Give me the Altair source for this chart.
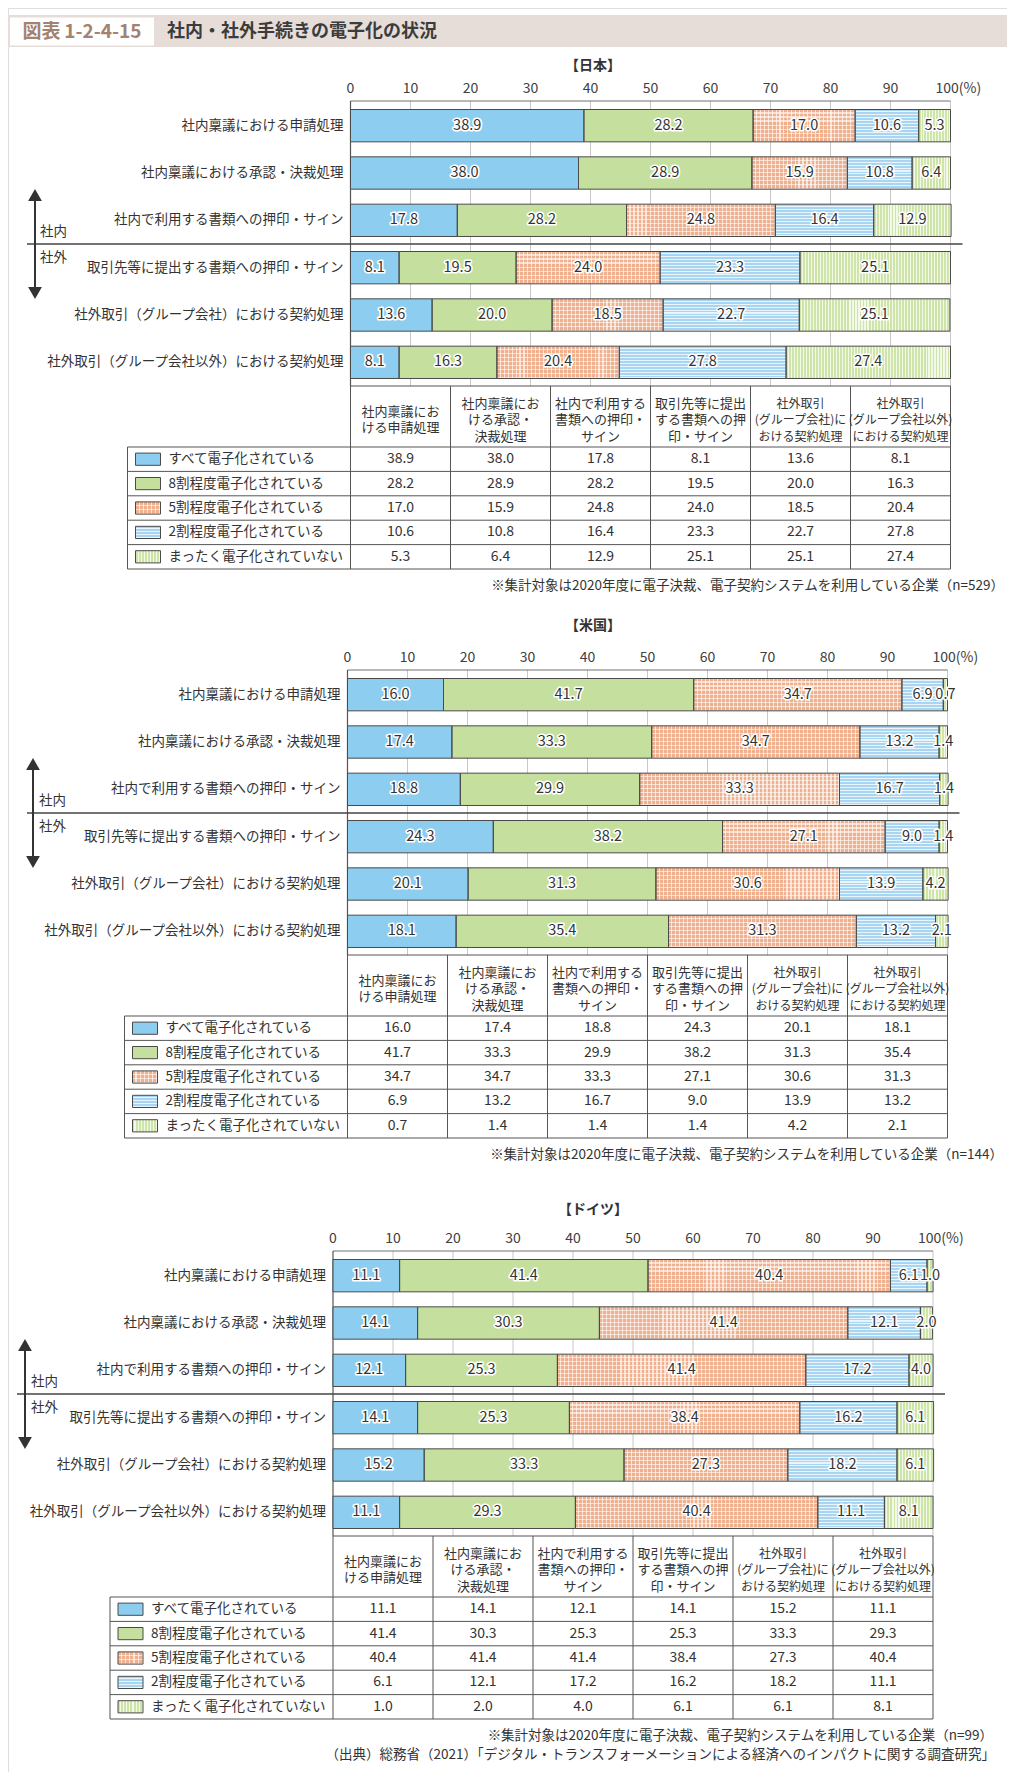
import altair as alt

# ------------------------------------------------------------------ data
CATS = [
    "社内稟議における申請処理",
    "社内稟議における承認・決裁処理",
    "社内で利用する書類への押印・サイン",
    "取引先等に提出する書類への押印・サイン",
    "社外取引（グループ会社）における契約処理",
    "社外取引（グループ会社以外）における契約処理",
]
LEVELS = [
    "すべて電子化されている",
    "8割程度電子化されている",
    "5割程度電子化されている",
    "2割程度電子化されている",
    "まったく電子化されていない",
]
HEADERS = [
    "社内稟議にお\nける申請処理",
    "社内稟議にお\nける承認・\n決裁処理",
    "社内で利用する\n書類への押印・\nサイン",
    "取引先等に提出\nする書類への押\n印・サイン",
    "社外取引\n(グループ会社)に\nおける契約処理",
    "社外取引\n(グループ会社以外)\nにおける契約処理",
]
COUNTRIES = ["【日本】", "【米国】", "【ドイツ】"]
SAMPLE_N = [529, 144, 99]
TICKS = [0, 10, 20, 30, 40, 50, 60, 70, 80, 90]
TICK_MAX_LABEL = "100(%)"
FIG_NO = "図表\u20091-2-4-15"
FIG_TITLE = "社内・社外手続きの電子化の状況"
NOTE = "※集計対象は2020年度に電子決裁、電子契約システムを利用している企業（n={}）"
SOURCE = "（出典）総務省（2021）「デジタル・トランスフォーメーションによる経済へのインパクトに関する調査研究」"
INSIDE, OUTSIDE = "社内", "社外"

jp_all = [38.9, 38.0, 17.8, 8.1, 13.6, 8.1]
jp_80 = [28.2, 28.9, 28.2, 19.5, 20.0, 16.3]
jp_50 = [17.0, 15.9, 24.8, 24.0, 18.5, 20.4]
jp_20 = [10.6, 10.8, 16.4, 23.3, 22.7, 27.8]
jp_none = [5.3, 6.4, 12.9, 25.1, 25.1, 27.4]

us_all = [16.0, 17.4, 18.8, 24.3, 20.1, 18.1]
us_80 = [41.7, 33.3, 29.9, 38.2, 31.3, 35.4]
us_50 = [34.7, 34.7, 33.3, 27.1, 30.6, 31.3]
us_20 = [6.9, 13.2, 16.7, 9.0, 13.9, 13.2]
us_none = [0.7, 1.4, 1.4, 1.4, 4.2, 2.1]

de_all = [11.1, 14.1, 12.1, 14.1, 15.2, 11.1]
de_80 = [41.4, 30.3, 25.3, 25.3, 33.3, 29.3]
de_50 = [40.4, 41.4, 41.4, 38.4, 27.3, 40.4]
de_20 = [6.1, 12.1, 17.2, 16.2, 18.2, 11.1]
de_none = [1.0, 2.0, 4.0, 6.1, 6.1, 8.1]

DATA = [
    [jp_all, jp_80, jp_50, jp_20, jp_none],
    [us_all, us_80, us_50, us_20, us_none],
    [de_all, de_80, de_50, de_20, de_none],
]

# ------------------------------------------------------------------ style / layout
FONT = "Noto Sans CJK JP"
TXT = "#333333"
W, H = 999, 1764
DY = [0, 569, 1150]            # vertical offset of each panel
X0 = [342.5, 339.5, 325.0]     # left edge of plot (value 0)
PW = 600                       # plot width (0..100)
BAND = (94, 378)               # bar band range (panel 1)
FRAME_TOP = 93
TABLE = (378, 439, 561)        # table top, header bottom, bottom
HDR_CENTER = 0.56              # header text block centre, in header units
HDR_LH = 16.5
TICK_Y = 81
TITLE_Y = [58, 618, 1202]
TITLE_X = 585
SEP_Y = 236
SEP_X = [19, 19, 9]
ARR_X = [27, 25, 17]
ARR_Y = (180, 292)
LBL_X = [32, 31, 23]
LBL_Y = (224, 250)
FOOT_X = [996, 995, 985]
FOOT_Y = 578
LEG = -2.23                    # legend column left edge in table column units

C_ALL = "#8dcdef"
C_80 = "#c5df9e"
C_50 = "#eeb08e"
C_50_LINE = "#fae2d4"
C_20 = "#a8d6f2"
C_NONE = "#cfe4a8"
C_NONE_LINE = "#f3f9e8"
STROKE = "#4a4a4a"


def stripes(n, base, line, frac, vertical):
    n = max(1, int(round(n)))
    stops = []
    for k in range(n):
        a = round(k / n, 5)
        b = round((k + 1 - frac) / n, 5)
        c = round((k + 1) / n, 5)
        stops += [
            {"offset": a, "color": base},
            {"offset": b, "color": base},
            {"offset": b, "color": line},
            {"offset": c, "color": line},
        ]
    g = {"gradient": "linear", "stops": stops}
    if vertical:
        g.update(x1=0, y1=0, x2=1, y2=0)
    else:
        g.update(x1=0, y1=0, x2=0, y2=1)
    return g


def base_fill(li, wpx):
    if li == 0:
        return C_ALL
    if li == 1:
        return C_80
    if li == 2:
        return stripes(wpx / 4.0, C_50, C_50_LINE, 0.28, True)
    if li == 3:
        return C_20
    return stripes(wpx / 3.0, C_NONE, C_NONE_LINE, 0.36, True)


def overlay_fill(li, hpx):
    if li == 2:
        return stripes(hpx / 4.0, "rgba(255,255,255,0)", "rgba(255,255,255,0.6)", 0.28, False)
    return stripes(hpx / 3.0, "rgba(255,255,255,0)", "rgba(255,255,255,0.75)", 0.36, False)


ONE = alt.Data(values=[{"k": 0}])
layers = []


def text_mark(**kw):
    d = dict(font=FONT, color=TXT, baseline="middle")
    d.update(kw)
    return d


# ------------------------------------------------------------------ header band
layers.append(alt.Chart(ONE).mark_rect(color="#e6ddd8").encode(
    x=alt.value(0), x2=alt.value(W), y=alt.value(7), y2=alt.value(39)))
layers.append(alt.Chart(ONE).mark_rect(color="#ffffff").encode(
    x=alt.value(2), x2=alt.value(146), y=alt.value(9.5), y2=alt.value(37.5)))
layers.append(alt.Chart(ONE).mark_text(**text_mark(
    fontSize=19, fontWeight="bold", color="#a3826f", align="center")).encode(
    x=alt.value(74), y=alt.value(24), text=alt.value(FIG_NO)))
layers.append(alt.Chart(ONE).mark_text(**text_mark(
    fontSize=18, fontWeight="bold", color="#3c3c3c", align="left")).encode(
    x=alt.value(159), y=alt.value(24), text=alt.value(FIG_TITLE)))

# ------------------------------------------------------------------ panels
for p in range(3):
    dy = DY[p]
    x0 = X0[p]
    vals = DATA[p]
    xs = alt.Scale(domain=[0, 100], range=[x0, x0 + PW], nice=False, zero=False)
    ys = alt.Scale(domain=CATS, range=[BAND[0] + dy, BAND[1] + dy],
                   paddingInner=0.317, paddingOuter=0.1585)
    step = (BAND[1] - BAND[0]) / len(CATS)
    bar_h = step * (1 - 0.317)

    def XQ(f):
        return alt.X(f, type="quantitative", scale=xs, axis=None)

    def YC(f):
        return alt.Y(f, type="nominal", scale=ys, axis=None)

    # records for stacked bars (derived from the arrays above)
    recs, ovs = [], []
    for r, cat in enumerate(CATS):
        cum = 0.0
        for li, lev in enumerate(LEVELS):
            v = vals[li][r]
            s, e = cum, cum + v
            cum = e
            wpx = v * PW / 100.0
            recs.append({"cat": cat, "level": lev, "v": v, "s": s, "e": e,
                         "m": (s + e) / 2, "fill": base_fill(li, wpx)})
            if li in (2, 3):
                ovs.append({"cat": cat, "s": s, "e": e, "ov": overlay_fill(li, bar_h)})
    bars = alt.Data(values=recs)

    # title
    layers.append(alt.Chart(ONE).mark_text(**text_mark(
        fontSize=14, fontWeight="bold", align="center")).encode(
        x=alt.value(TITLE_X), y=alt.value(TITLE_Y[p]), text=alt.value(COUNTRIES[p])))

    # grid lines + frame
    layers.append(alt.Chart(alt.Data(values=[{"t": t} for t in TICKS[1:] + [100]]))
                  .mark_rule(color="#c8c8c8", strokeWidth=1).encode(
        x=XQ("t"), y=alt.value(FRAME_TOP + dy), y2=alt.value(TABLE[0] + dy)))
    layers.append(alt.Chart(alt.Data(values=[{"a": 0, "b": 100}]))
                  .mark_rule(color="#707070", strokeWidth=1).encode(
        x=XQ("a"), x2=alt.X2("b"), y=alt.value(FRAME_TOP + dy)))
    layers.append(alt.Chart(alt.Data(values=[{"a": 0}]))
                  .mark_rule(color="#555555", strokeWidth=1.2).encode(
        x=XQ("a"), y=alt.value(FRAME_TOP + dy), y2=alt.value(TABLE[0] + dy)))

    # bars
    layers.append(alt.Chart(bars).mark_bar(strokeWidth=0).encode(
        x=XQ("s"), x2=alt.X2("e"), y=YC("cat"),
        fill=alt.Fill("fill", type="nominal", scale=None, legend=None)))
    layers.append(alt.Chart(alt.Data(values=ovs)).mark_bar(strokeWidth=0).encode(
        x=XQ("s"), x2=alt.X2("e"), y=YC("cat"),
        fill=alt.Fill("ov", type="nominal", scale=None, legend=None)))
    layers.append(alt.Chart(bars).mark_bar(fillOpacity=0, stroke=STROKE, strokeWidth=1).encode(
        x=XQ("s"), x2=alt.X2("e"), y=YC("cat")))

    # value labels (white halo + text)
    layers.append(alt.Chart(bars).mark_text(**text_mark(
        fontSize=14.5, color="white", stroke="white", strokeWidth=3.2,
        strokeJoin="round", align="center")).encode(
        x=XQ("m"), y=YC("cat"), text=alt.Text("v:Q", format=".1f")))
    layers.append(alt.Chart(bars).mark_text(**text_mark(
        fontSize=14.5, align="center")).encode(
        x=XQ("m"), y=YC("cat"), text=alt.Text("v:Q", format=".1f")))

    # category labels
    layers.append(alt.Chart(alt.Data(values=[{"cat": c} for c in CATS])).mark_text(**text_mark(
        fontSize=13.5, align="right")).encode(
        x=alt.value(x0 - 7), y=YC("cat"), text="cat:N"))

    # tick labels
    layers.append(alt.Chart(alt.Data(values=[{"t": t, "lab": str(t)} for t in TICKS])).mark_text(**text_mark(
        fontSize=14, color="#404040", align="center")).encode(
        x=XQ("t"), y=alt.value(TICK_Y + dy), text="lab:N"))
    layers.append(alt.Chart(alt.Data(values=[{"t": 100, "lab": TICK_MAX_LABEL}])).mark_text(**text_mark(
        fontSize=14, color="#404040", align="left", dx=-15)).encode(
        x=XQ("t"), y=alt.value(TICK_Y + dy), text="lab:N"))

    # separator, arrow, 社内 / 社外
    layers.append(alt.Chart(ONE).mark_rule(color="#444444", strokeWidth=1.6).encode(
        x=alt.value(SEP_X[p]), x2=alt.value(x0 + 612), y=alt.value(SEP_Y + dy)))
    layers.append(alt.Chart(ONE).mark_rule(color="#333333", strokeWidth=2).encode(
        x=alt.value(ARR_X[p]), y=alt.value(ARR_Y[0] + 8 + dy), y2=alt.value(ARR_Y[1] - 8 + dy)))
    layers.append(alt.Chart(ONE).mark_point(shape="triangle-up", filled=True, size=190,
                                            color="#333333", opacity=1).encode(
        x=alt.value(ARR_X[p]), y=alt.value(ARR_Y[0] + 7 + dy)))
    layers.append(alt.Chart(ONE).mark_point(shape="triangle-down", filled=True, size=190,
                                            color="#333333", opacity=1).encode(
        x=alt.value(ARR_X[p]), y=alt.value(ARR_Y[1] - 7 + dy)))
    layers.append(alt.Chart(ONE).mark_text(**text_mark(fontSize=13.5, align="left")).encode(
        x=alt.value(LBL_X[p]), y=alt.value(LBL_Y[0] + dy), text=alt.value(INSIDE)))
    layers.append(alt.Chart(ONE).mark_text(**text_mark(fontSize=13.5, align="left")).encode(
        x=alt.value(LBL_X[p]), y=alt.value(LBL_Y[1] + dy), text=alt.value(OUTSIDE)))

    # ---------------- table
    tx = alt.Scale(domain=[0, 6], range=[x0, x0 + PW], nice=False, zero=False)
    ty = alt.Scale(domain=[0, 1, 6], range=[TABLE[0] + dy, TABLE[1] + dy, TABLE[2] + dy],
                   nice=False, zero=False)
    hdr_unit = TABLE[1] - TABLE[0]

    def TX(f):
        return alt.X(f, type="quantitative", scale=tx, axis=None)

    def TY(f):
        return alt.Y(f, type="quantitative", scale=ty, axis=None)

    ncol = len(CATS)
    nrow = len(LEVELS)
    lines = [{"x": 0, "x2": ncol, "y": 0, "y2": 0}]
    lines += [{"x": LEG, "x2": ncol, "y": k, "y2": k} for k in range(1, nrow + 2)]
    lines += [{"x": LEG, "x2": LEG, "y": 1, "y2": nrow + 1}]
    lines += [{"x": c, "x2": c, "y": 0, "y2": nrow + 1} for c in range(ncol + 1)]
    layers.append(alt.Chart(alt.Data(values=lines)).mark_rule(color="#555555", strokeWidth=1).encode(
        x=TX("x"), x2=alt.X2("x2"), y=TY("y"), y2=alt.Y2("y2")))

    hdr = []
    for c in range(ncol):
        nl = HEADERS[c].count("\n")
        hdr.append({"c": c + 0.5,
                    "y": HDR_CENTER - nl * HDR_LH / 2.0 / hdr_unit,
                    "t": HEADERS[c],
                    "fs": 12 if c >= 4 else 13})
    layers.append(alt.Chart(alt.Data(values=hdr)).mark_text(**text_mark(
        align="center", lineBreak="\n", lineHeight=HDR_LH)).encode(
        x=TX("c"), y=TY("y"), text="t:N", size=alt.Size("fs", type="quantitative", scale=None)))

    cells = [{"c": c + 0.5, "y": r + 1.5, "v": vals[r][c]}
             for r in range(nrow) for c in range(ncol)]
    layers.append(alt.Chart(alt.Data(values=cells)).mark_text(**text_mark(
        fontSize=14, align="center")).encode(
        x=TX("c"), y=TY("y"), text=alt.Text("v:Q", format=".1f")))

    sw_w = 0.25 * 100
    sw = [{"x": LEG + 0.08, "x2": LEG + 0.33, "y": r + 1.25, "y2": r + 1.75,
           "fill": base_fill(r, sw_w)} for r in range(nrow)]
    sw_ov = [{"x": LEG + 0.08, "x2": LEG + 0.33, "y": r + 1.25, "y2": r + 1.75,
              "ov": overlay_fill(r, 12)} for r in (2, 3)]
    layers.append(alt.Chart(alt.Data(values=sw)).mark_rect(strokeWidth=0).encode(
        x=TX("x"), x2=alt.X2("x2"), y=TY("y"), y2=alt.Y2("y2"),
        fill=alt.Fill("fill", type="nominal", scale=None, legend=None)))
    layers.append(alt.Chart(alt.Data(values=sw_ov)).mark_rect(strokeWidth=0).encode(
        x=TX("x"), x2=alt.X2("x2"), y=TY("y"), y2=alt.Y2("y2"),
        fill=alt.Fill("ov", type="nominal", scale=None, legend=None)))
    layers.append(alt.Chart(alt.Data(values=sw)).mark_rect(fillOpacity=0, stroke=STROKE, strokeWidth=1).encode(
        x=TX("x"), x2=alt.X2("x2"), y=TY("y"), y2=alt.Y2("y2")))

    leg = [{"x": LEG + 0.41, "y": r + 1.5, "t": LEVELS[r]} for r in range(nrow)]
    layers.append(alt.Chart(alt.Data(values=leg)).mark_text(**text_mark(
        fontSize=13.5, align="left")).encode(
        x=TX("x"), y=TY("y"), text="t:N"))

    # footnote
    layers.append(alt.Chart(ONE).mark_text(**text_mark(fontSize=13.5, align="right")).encode(
        x=alt.value(FOOT_X[p]), y=alt.value(FOOT_Y + dy), text=alt.value(NOTE.format(SAMPLE_N[p]))))

layers.append(alt.Chart(ONE).mark_text(**text_mark(fontSize=13.5, align="right")).encode(
    x=alt.value(FOOT_X[2] + 2), y=alt.value(FOOT_Y + DY[2] + 19), text=alt.value(SOURCE)))

chart = alt.layer(*layers).properties(
    width=W, height=H, padding=0, autosize=alt.AutoSizeParams(type="none")
).resolve_scale(x="independent", y="independent").configure_view(stroke=None).configure(font=FONT)

chart.save("out.html", embed_options={"renderer": "svg", "actions": False})
